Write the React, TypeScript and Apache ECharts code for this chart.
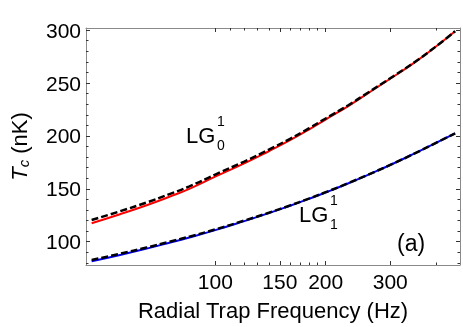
import React, { useEffect, useRef } from 'react';
import * as echarts from 'echarts';

// Radial trap frequency (Hz)
const freqHz = [46, 55, 65, 75, 85, 100, 120, 140, 160, 180, 200, 230, 260, 300, 350, 400, 451];
// LG_0^1 : solid red (exact) and dashed black (approximation)
const lg01Solid = [117.5, 126, 134.5, 142.5, 150, 161.5, 174, 185.5, 196, 206, 215.5, 228, 240, 254, 269.5, 284.5, 299];
const lg01Dashed = [120.5, 128.8, 137.1, 145, 152.3, 163.5, 175.8, 187, 197.3, 207.1, 216.5, 228.8, 240.6, 254.5, 269.8, 284.6, 299];
// LG_1^1 : solid blue (exact) and dashed black (approximation)
const lg11Solid = [81.5, 87.5, 93.5, 99, 104, 111, 119.5, 127, 134, 140.5, 146.5, 155, 163, 172.5, 183.5, 193.5, 202.5];
const lg11Dashed = [82.7, 88.6, 94.5, 99.9, 104.8, 111.6, 120, 127.4, 134.3, 140.8, 146.8, 155.2, 163.1, 172.6, 183.5, 193.5, 202.5];

const xMajorTicks = [100, 150, 200, 300];
const xMinorTicks = [110, 120, 130, 140, 160, 170, 180, 190, 400];
const yMajorTicks = [100, 150, 200, 250, 300];
const yMinorTicks = [80, 90, 110, 120, 130, 140, 160, 170, 180, 190, 210, 220, 230, 240, 260, 270, 280, 290];

const FONT = '"Liberation Sans", Arial, Helvetica, sans-serif';
const FRAME = '#8a8a8a';
const TICK = '#333';

export default function App() {
  const ref = useRef<HTMLDivElement>(null);
  useEffect(() => {
    if (!ref.current) return;
    const chart = echarts.init(ref.current, undefined, { renderer: 'svg' });
    const pair = (ys: number[]) => freqHz.map((f, i) => [f, ys[i]]);

    const xBase: any = {
      type: 'log', logBase: 10, min: 44.4, max: 465, gridIndex: 0,
      splitLine: { show: false }, minorTick: { show: false }, minorSplitLine: { show: false },
    };
    const yBase: any = {
      type: 'value', min: 78, max: 302, gridIndex: 0,
      splitLine: { show: false }, minorTick: { show: false }, minorSplitLine: { show: false },
    };
    const majorTick = (vals: number[]) => ({ show: true, inside: true, length: 4, customValues: vals, lineStyle: { color: TICK, width: 1 } });
    const minorTick = (vals: number[]) => ({ show: true, inside: true, length: 2.5, customValues: vals, lineStyle: { color: TICK, width: 1 } });
    const frameLine = { show: true, lineStyle: { color: FRAME, width: 1 } };

    const option: any = {
      animation: false,
      grid: { left: 77, top: 28, width: 383, height: 237, containLabel: false },
      xAxis: [
        {
          ...xBase, position: 'bottom',
          axisLine: frameLine,
          axisTick: majorTick(xMajorTicks),
          axisLabel: { show: true, customValues: xMajorTicks, margin: 6, fontSize: 21, color: '#000', fontFamily: FONT },
          name: 'Radial Trap Frequency (Hz)', nameLocation: 'middle', nameGap: 34,
          nameTextStyle: { fontSize: 22, color: '#000', fontFamily: FONT },
        },
        { ...xBase, position: 'bottom', axisLine: { show: false }, axisTick: minorTick(xMinorTicks), axisLabel: { show: false } },
        { ...xBase, position: 'top', axisLine: frameLine, axisTick: majorTick(xMajorTicks), axisLabel: { show: false } },
        { ...xBase, position: 'top', axisLine: { show: false }, axisTick: minorTick(xMinorTicks), axisLabel: { show: false } },
      ],
      yAxis: [
        {
          ...yBase, position: 'left',
          axisLine: frameLine,
          axisTick: majorTick(yMajorTicks),
          axisLabel: { show: true, customValues: yMajorTicks, margin: 5, fontSize: 21, color: '#000', fontFamily: FONT },
          name: '{i|T}{s|c} (nK)', nameLocation: 'middle', nameGap: 55, nameRotate: 90,
          nameTextStyle: {
            fontSize: 22, color: '#000', fontFamily: FONT,
            rich: {
              i: { fontSize: 22, fontStyle: 'italic', fontFamily: FONT, color: '#000' },
              s: { fontSize: 15, fontStyle: 'italic', fontFamily: FONT, color: '#000', verticalAlign: 'bottom', padding: [9, 0, 0, 0] },
            },
          },
        },
        { ...yBase, position: 'left', axisLine: { show: false }, axisTick: minorTick(yMinorTicks), axisLabel: { show: false } },
        { ...yBase, position: 'right', axisLine: frameLine, axisTick: majorTick(yMajorTicks), axisLabel: { show: false } },
        { ...yBase, position: 'right', axisLine: { show: false }, axisTick: minorTick(yMinorTicks), axisLabel: { show: false } },
      ],
      series: [
        { type: 'line', name: 'LG01 exact', data: pair(lg01Solid), showSymbol: false, smooth: true, lineStyle: { color: '#ff0000', width: 2 }, xAxisIndex: 0, yAxisIndex: 0 },
        { type: 'line', name: 'LG11 exact', data: pair(lg11Solid), showSymbol: false, smooth: true, lineStyle: { color: '#0000ff', width: 2 }, xAxisIndex: 0, yAxisIndex: 0 },
        { type: 'line', name: 'LG01 approx', data: pair(lg01Dashed), showSymbol: false, smooth: true, lineStyle: { color: '#000', width: 2.5, type: [7, 3] }, xAxisIndex: 0, yAxisIndex: 0 },
        { type: 'line', name: 'LG11 approx', data: pair(lg11Dashed), showSymbol: false, smooth: true, lineStyle: { color: '#000', width: 2.5, type: [7, 3] }, xAxisIndex: 0, yAxisIndex: 0 },
      ],
      graphic: [
        { type: 'text', left: 186, top: 124, style: { text: 'LG', fontSize: 22, fontFamily: FONT, fill: '#000' } },
        { type: 'text', left: 217, top: 114, style: { text: '1', fontSize: 14, fontFamily: FONT, fill: '#000' } },
        { type: 'text', left: 217, top: 138, style: { text: '0', fontSize: 14, fontFamily: FONT, fill: '#000' } },
        { type: 'text', left: 299, top: 203, style: { text: 'LG', fontSize: 22, fontFamily: FONT, fill: '#000' } },
        { type: 'text', left: 330, top: 193, style: { text: '1', fontSize: 14, fontFamily: FONT, fill: '#000' } },
        { type: 'text', left: 330, top: 217, style: { text: '1', fontSize: 14, fontFamily: FONT, fill: '#000' } },
        { type: 'text', left: 397, top: 231, style: { text: '(a)', fontSize: 23, fontFamily: FONT, fill: '#000' } },
      ],
    };
    chart.setOption(option);
    return () => chart.dispose();
  }, []);
  return <div ref={ref} style={{ position: 'fixed', left: 0, top: 0, width: 463, height: 327 }} />;
}
